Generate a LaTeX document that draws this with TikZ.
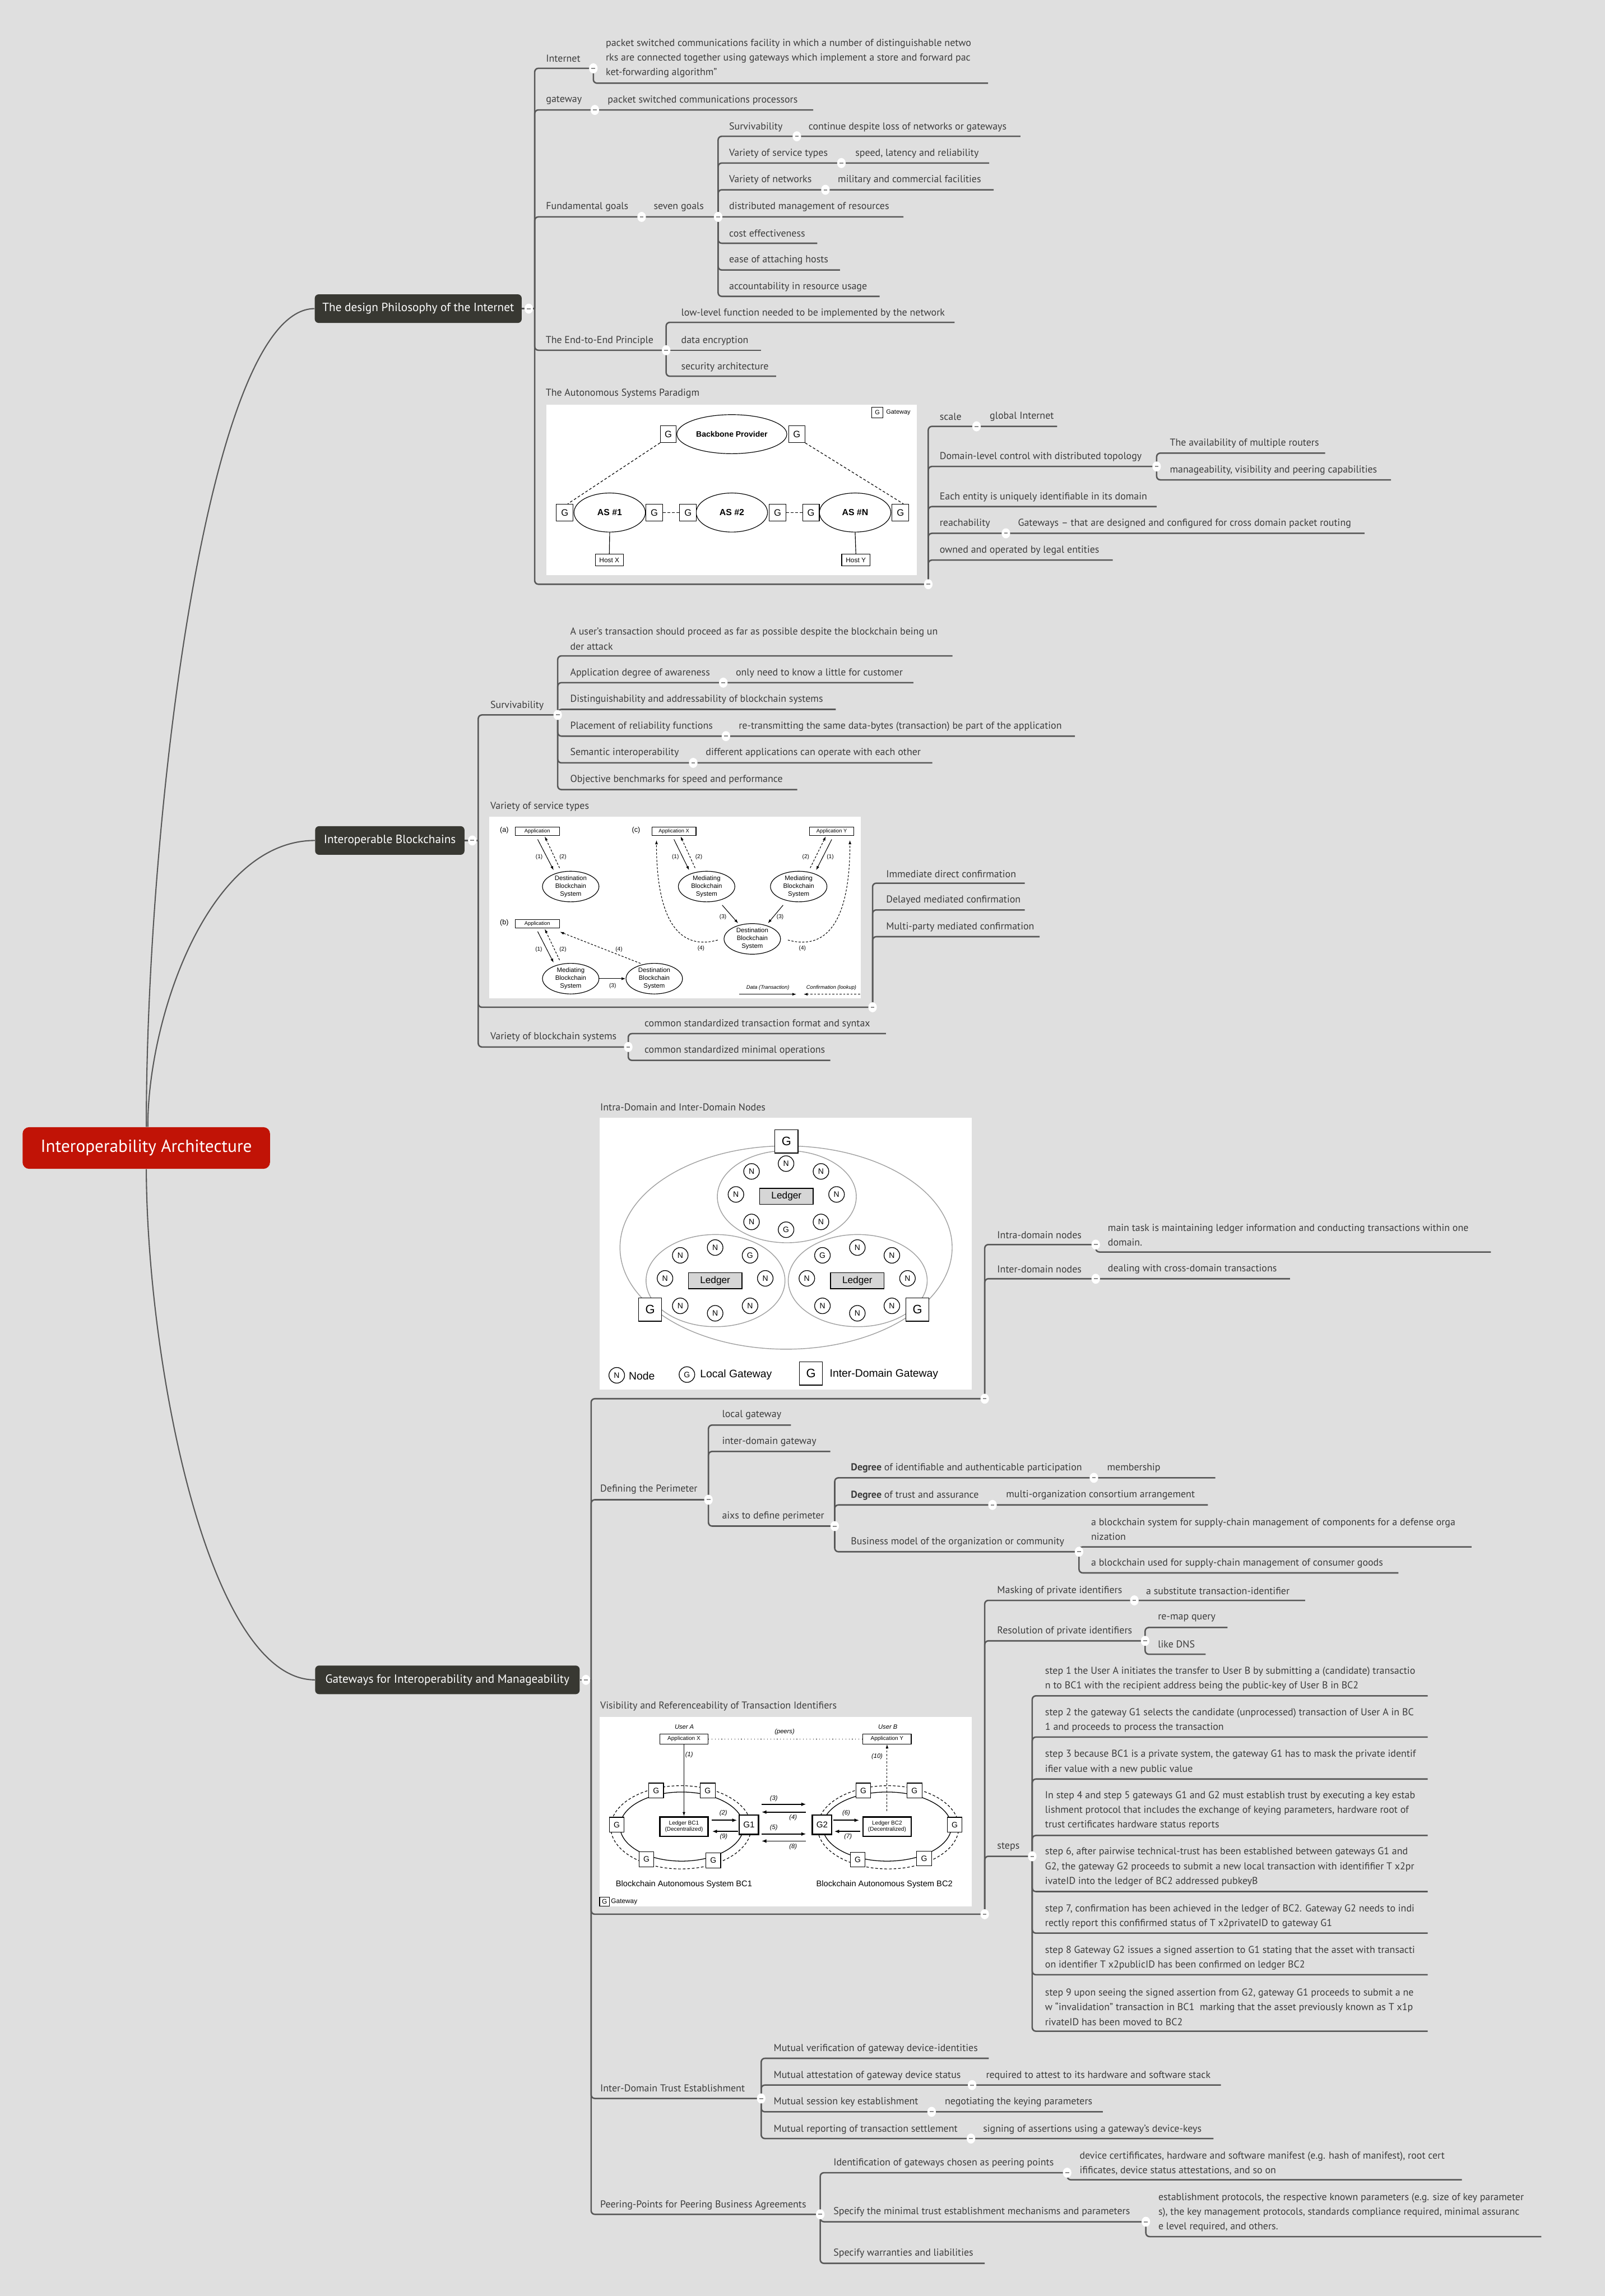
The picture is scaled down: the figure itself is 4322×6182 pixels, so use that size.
\documentclass[tikz,border=0pt]{standalone}
\usepackage{fontspec}
\usetikzlibrary{shapes.geometric,arrows.meta,calc}
\newfontfamily\mmf{PT Sans}
\newfontfamily\fgf{Liberation Sans}
\definecolor{bgc}{HTML}{DFDFDF}
\definecolor{tc}{HTML}{3C3C3C}
\definecolor{lc}{HTML}{585858}
\definecolor{boxc}{HTML}{383832}
\definecolor{rootc}{HTML}{C11306}
\definecolor{mgc}{HTML}{8C8C8C}
\definecolor{ledc}{HTML}{D6D6D6}
\definecolor{elc}{HTML}{A0A0A0}
\newcommand\mmfont{\mmf\fontsize{7.7}{11.3}\selectfont}
\newcommand\ff[2]{\fgf\fontsize{#1}{#2}\selectfont}
\newcommand\marker[3]{\node[mkr] (#1) at (#2,#3) {\color{mgc}\rule{0.1cm}{0.03cm}};}
\tikzset{
 txt/.style={font=\mmfont, text=tc, inner sep=0pt, anchor=west, align=left},
 ln/.style={draw=lc, line width=1.1pt, rounded corners=2.8pt},
 cv/.style={draw=lc, line width=0.9pt},
 mkr/.style={ellipse, fill=white, inner sep=0pt, minimum width=0.23cm, minimum height=0.27cm},
 mbox/.style={fill=boxc, rounded corners=3pt, text=white, font={\mmf\fontsize{9.1}{10}\selectfont}, minimum height=0.77cm, inner sep=0pt, anchor=west},
 fl/.style={draw=black, line width=0.5pt},
 fd/.style={fl, dash pattern=on 2pt off 1.5pt},
 ft/.style={inner sep=0pt, text=black},
 gbox/.style={draw=black, line width=0.5pt, fill=white, inner sep=0pt, minimum width=0.45cm, minimum height=0.45cm, font={\ff{7.1}{8}}},
 fell/.style={draw=black, line width=0.5pt, ellipse, inner sep=0pt, align=center},
 fbx/.style={draw=black, line width=0.5pt, fill=white, inner sep=0pt, font={\ff{4}{5}}},
 fe2/.style={fell, minimum width=1.52cm, minimum height=0.81cm, font={\ff{4.9}{6}}},
 lab/.style={ft, font={\ff{4.3}{5}}},
 ilab/.style={ft, font={\ff{4.8}{5}\itshape}},
 arr/.style={draw=black, line width=0.45pt, -{Latex[length=0.11cm,width=0.075cm]}},
 arrd/.style={arr, dash pattern=on 1.6pt off 1.2pt},
 arrt/.style={draw=black, line width=0.75pt, -{Latex[length=0.13cm,width=0.1cm]}},
 nd/.style={circle, draw=black, line width=0.55pt, fill=white, inner sep=0pt, minimum size=0.42cm, font={\ff{6}{6}}},
 ledb/.style={draw=black, line width=0.6pt, fill=ledc, inner sep=0pt, minimum width=1.44cm, minimum height=0.43cm, font={\ff{7.4}{8}}},
 igb/.style={draw=black, line width=0.6pt, fill=white, inner sep=0pt, minimum width=0.62cm, minimum height=0.63cm, font={\ff{9.4}{10}}},
 gfour/.style={draw=black, line width=0.5pt, fill=white, inner sep=0pt, minimum size=0.40cm, font={\ff{6}{7}}},
 gfourt/.style={draw=black, line width=1.1pt, fill=white, inner sep=0pt, minimum size=0.52cm, font={\ff{6.5}{7}}},
 ledfour/.style={draw=black, line width=1.1pt, fill=white, inner sep=0pt, minimum width=1.30cm, minimum height=0.52cm, align=center, font={\ff{4.3}{4.9}}},
}
\begin{document}
\begin{tikzpicture}[x=0.01cm,y=-0.01cm]
\fill[bgc] (0,0) rectangle (4322,6182);
\useasboundingbox (0,0) rectangle (4322,6182);

% ---------- root and main branches
\node[fill=rootc, rounded corners=5pt, text=white, font={\mmf\fontsize{13.4}{15}\selectfont}, minimum width=6.66cm, minimum height=1.12cm, inner sep=0pt] (root) at (394,3091) {Interoperability Architecture};
\node[mbox, minimum width=5.57cm] (b1) at (847,831) {The design Philosophy of the Internet};
\node[mbox, minimum width=4.02cm] (b2) at (848,2263) {Interoperable Blockchains};
\node[mbox, minimum width=7.12cm] (b3) at (848,4523) {Gateways for Interoperability and Manageability};
\draw[cv] (root.north) .. controls (394,2200) and (560,831) .. (b1.west);
\draw[cv] ([xshift=0.04cm]root.north) .. controls (398,2742) and (560,2263) .. (b2.west);
\draw[cv] (root.south) .. controls (396,3670) and (560,4523) .. (b3.west);

% ================= Branch 1
\coordinate (j1) at (1440,831);
\draw[ln] (b1.east) -- (j1);
\draw[ln] (j1) |- (1598,184);
\draw[ln] (1598,184) |- (2661,224);
\draw[ln] (j1) |- (2190,296);
\draw[ln] (j1) |- (2433,584);
\draw[ln] (1934,584) |- (2748,367);
\draw[ln] (1934,584) |- (2664,439);
\draw[ln] (1934,584) |- (2676,511);
\draw[ln] (1934,584) |- (2201,655);
\draw[ln] (1934,584) |- (2262,727);
\draw[ln] (1934,584) |- (2369,798);
\draw[ln] (j1) |- (1794,943);
\draw[ln] (1794,943) |- (2571,868);
\draw[ln] (1794,943) -- (2050,943);
\draw[ln] (1794,943) |- (2090,1013);
\draw[ln] (j1) |- (2500,1573);
\draw[ln] (2500,1573) |- (2847,1148);
\draw[ln] (2500,1573) |- (3115,1256);
\draw[ln] (3115,1256) |- (3569,1220);
\draw[ln] (3115,1256) |- (3746,1292);
\draw[ln] (2500,1573) |- (3115,1364);
\draw[ln] (2500,1573) |- (3675,1436);
\draw[ln] (2500,1573) |- (2997,1508);
\marker{m1}{1424}{831}
\marker{m2}{1598}{184}
\marker{m3}{1602}{296}
\marker{m4}{1728}{584}
\marker{m5}{1934}{584}
\marker{m6}{2146}{367}
\marker{m7}{2266}{439}
\marker{m8}{2223}{511}
\marker{m9}{1794}{943}
\marker{m10}{2500}{1573}
\marker{m11}{2630}{1148}
\marker{m12}{3115}{1256}
\marker{m13}{2709}{1436}

\node[txt] (a1) at (1470,157) {Internet};
\node[txt] (a2) at (1631,157) {packet switched communications facility in which a number of distinguishable netwo\\rks are connected together using gateways which implement a store and forward pac\\ket-forwarding algorithm”};
\node[txt] (a3) at (1470,270) {gateway};
\node[txt] (a4) at (1636,270) {packet switched communications processors};
\node[txt] (a5) at (1470,557) {Fundamental goals};
\node[txt] (a6) at (1760,557) {seven goals};
\node[txt] (a7) at (1963,342) {Survivability};
\node[txt] (a8) at (2177,342) {continue despite loss of networks or gateways};
\node[txt] (a9) at (1963,413) {Variety of service types};
\node[txt] (a10) at (2303,413) {speed, latency and reliability};
\node[txt] (a11) at (1963,485) {Variety of networks};
\node[txt] (a12) at (2256,485) {military and commercial facilities};
\node[txt] (a13) at (1963,557) {distributed management of resources};
\node[txt] (a14) at (1963,629) {cost effectiveness};
\node[txt] (a15) at (1963,701) {ease of attaching hosts};
\node[txt] (a16) at (1963,773) {accountability in resource usage};
\node[txt] (a17) at (1469,918) {The End-to-End Principle};
\node[txt] (a18) at (1834,843) {low-level function needed to be implemented by the network};
\node[txt] (a19) at (1834,918) {data encryption};
\node[txt] (a20) at (1834,988) {security architecture};
\node[txt] (a21) at (1469,1060) {The Autonomous Systems Paradigm};
\node[txt] (a22) at (2530,1122) {scale};
\node[txt] (a23) at (2665,1122) {global Internet};
\node[txt] (a24) at (2530,1230) {Domain-level control with distributed topology};
\node[txt] (a25) at (3150,1194) {The availability of multiple routers};
\node[txt] (a26) at (3150,1266) {manageability, visibility and peering capabilities};
\node[txt] (a27) at (2530,1338) {Each entity is uniquely identifiable in its domain};
\node[txt] (a28) at (2530,1410) {reachability};
\node[txt] (a29) at (2741,1410) {Gateways – that are designed and configured for cross domain packet routing};
\node[txt] (a30) at (2530,1482) {owned and operated by legal entities};

% ---- Figure 1: AS paradigm
\fill[white] (1471,1090) rectangle (2469,1549);
\node[gbox, minimum width=0.30cm, minimum height=0.29cm, font={\ff{4.7}{5}}] (lgG) at (2363,1111) {G};
\node[ft, anchor=west, font={\ff{4.7}{5}}] (lgT) at (2386,1111) {Gateway};
\node[fell, minimum width=2.96cm, minimum height=1.05cm, font={\ff{6}{7}\bfseries}] (bb) at (1971,1169) {Backbone Provider};
\node[gbox, minimum width=0.43cm] (bbL) at (1800,1169) {G};
\node[gbox, minimum width=0.43cm] (bbR) at (2146,1169) {G};
\node[fell, minimum width=1.92cm, minimum height=1.05cm, font={\ff{6.8}{7}\bfseries}] (as1) at (1642,1380) {AS \#1};
\node[fell, minimum width=1.92cm, minimum height=1.05cm, font={\ff{6.8}{7}\bfseries}] (as2) at (1971,1380) {AS \#2};
\node[fell, minimum width=1.92cm, minimum height=1.05cm, font={\ff{6.8}{7}\bfseries}] (asN) at (2303,1380) {AS \#N};
\node[gbox] (g1) at (1521,1380) {G};
\node[gbox] (g2) at (1762,1380) {G};
\node[gbox] (g3) at (1853,1380) {G};
\node[gbox] (g4) at (2094,1380) {G};
\node[gbox] (g5) at (2184,1380) {G};
\node[gbox] (g6) at (2425,1380) {G};
\node[gbox, minimum width=0.76cm, minimum height=0.31cm, font={\ff{5.1}{6}}] (hx) at (1641,1508) {Host X};
\node[gbox, minimum width=0.76cm, minimum height=0.31cm, font={\ff{5.1}{6}}] (hy) at (2305,1508) {Host Y};
\draw[fd] (bbL.south west) -- ($(g1.north)+(8,0)$);
\draw[fd] (bbR.south east) -- ($(g6.north)+(8,0)$);
\draw[fd] (g2.east) -- (g3.west);
\draw[fd] (g4.east) -- (g5.west);
\draw[fl] (as1.south) -- (hx.north);
\draw[fl] (asN.south) -- (hy.north);

% ================= Branch 2
\coordinate (j2) at (1288,2263);
\draw[ln] (b2.east) -- (j2);
\draw[ln] (j2) |- (1502,1925);
\draw[ln] (1502,1925) |- (2565,1766);
\draw[ln] (1502,1925) |- (2460,1838);
\draw[ln] (1502,1925) |- (2251,1910);
\draw[ln] (1502,1925) |- (2895,1982);
\draw[ln] (1502,1925) |- (2511,2054);
\draw[ln] (1502,1925) |- (2147,2126);
\draw[ln] (j2) |- (2350,2712);
\draw[ln] (2350,2712) |- (2760,2378);
\draw[ln] (2350,2712) |- (2760,2450);
\draw[ln] (2350,2712) |- (2800,2522);
\draw[ln] (j2) |- (1692,2819);
\draw[ln] (1692,2819) |- (2386,2783);
\draw[ln] (1692,2819) |- (2236,2855);
\marker{n1}{1272}{2263}
\marker{n2}{1502}{1925}
\marker{n3}{1948}{1838}
\marker{n4}{1955}{1982}
\marker{n5}{1867}{2054}
\marker{n6}{2350}{2712}
\marker{n7}{1692}{2819}

\node[txt] (c1) at (1320,1900) {Survivability};
\node[txt] (c2) at (1535,1720) {A user’s transaction should proceed as far as possible despite the blockchain being un\\der attack};
\node[txt] (c3) at (1535,1812) {Application degree of awareness};
\node[txt] (c4) at (1981,1812) {only need to know a little for customer};
\node[txt] (c5) at (1535,1884) {Distinguishability and addressability of blockchain systems};
\node[txt] (c6) at (1535,1956) {Placement of reliability functions};
\node[txt] (c7) at (1989,1956) {re-transmitting the same data-bytes (transaction) be part of the application};
\node[txt] (c8) at (1535,2027) {Semantic interoperability};
\node[txt] (c9) at (1900,2027) {different applications can operate with each other};
\node[txt] (c10) at (1535,2099) {Objective benchmarks for speed and performance};
\node[txt] (c11) at (1320,2172) {Variety of service types};
\node[txt] (c12) at (2386,2353) {Immediate direct confirmation};
\node[txt] (c13) at (2386,2424) {Delayed mediated confirmation};
\node[txt] (c14) at (2386,2496) {Multi-party mediated confirmation};
\node[txt] (c15) at (1320,2792) {Variety of blockchain systems};
\node[txt] (c16) at (1735,2757) {common standardized transaction format and syntax};
\node[txt] (c17) at (1735,2829) {common standardized minimal operations};

% ---- Figure 2: service types
\fill[white] (1318,2199) rectangle (2318,2688);
\node[ft, font={\ff{5.4}{6}}] (la) at (1358,2236) {(a)};
\node[fbx, minimum width=1.19cm, minimum height=0.23cm] (appA) at (1447,2238) {Application};
\node[fe2] (dA) at (1537,2387) {Destination\\Blockchain\\System};
\draw[arr] (1448,2260) -- (1491,2343);
\draw[arrd] (1507,2337) -- (1467,2252);
\node[lab] (la1) at (1452,2308) {(1)};
\node[lab] (la2) at (1516,2308) {(2)};
\node[ft, font={\ff{5.4}{6}}] (lb) at (1358,2484) {(b)};
\node[fbx, minimum width=1.19cm, minimum height=0.23cm] (appB) at (1447,2487) {Application};
\node[fe2] (mB) at (1537,2635) {Mediating\\Blockchain\\System};
\node[fe2] (dB) at (1762,2635) {Destination\\Blockchain\\System};
\draw[arr] (1448,2508) -- (1491,2592);
\draw[arrd] (1507,2585) -- (1467,2501);
\draw[arr] (mB.east) -- (dB.west);
\draw[arrd] (1725,2594) -- (1508,2509);
\node[lab] (lb1) at (1451,2557) {(1)};
\node[lab] (lb2) at (1516,2557) {(2)};
\node[lab] (lb3) at (1650,2654) {(3)};
\node[lab] (lb4) at (1667,2557) {(4)};
\node[ft, font={\ff{5.4}{6}}] (lc) at (1713,2236) {(c)};
\node[fbx, minimum width=1.19cm, minimum height=0.23cm] (appX) at (1815,2238) {Application X};
\node[fbx, minimum width=1.19cm, minimum height=0.23cm] (appY) at (2240,2238) {Application Y};
\node[fe2] (mC1) at (1903,2387) {Mediating\\Blockchain\\System};
\node[fe2] (mC2) at (2151,2387) {Mediating\\Blockchain\\System};
\node[fe2] (dC) at (2026,2528) {Destination\\Blockchain\\System};
\draw[arr] (1815,2260) -- (1856,2343);
\draw[arrd] (1872,2337) -- (1833,2252);
\draw[arr] (2240,2260) -- (2198,2343);
\draw[arrd] (2182,2337) -- (2224,2252);
\draw[arr] (1945,2437) -- (1988,2486);
\draw[arr] (2109,2437) -- (2068,2486);
\draw[arrd] (1933,2531) .. controls (1830,2560) and (1768,2480) .. (1768,2262);
\draw[arrd] (2122,2531) .. controls (2227,2560) and (2289,2480) .. (2289,2262);
\node[lab] (lc1) at (1819,2308) {(1)};
\node[lab] (lc2) at (1882,2308) {(2)};
\node[lab] (lc3) at (2170,2308) {(2)};
\node[lab] (lc4) at (2236,2308) {(1)};
\node[lab] (lc5) at (1947,2469) {(3)};
\node[lab] (lc6) at (2101,2469) {(3)};
\node[lab] (lc7) at (1888,2554) {(4)};
\node[lab] (lc8) at (2161,2554) {(4)};
\node[ft, font={\ff{4}{5}\itshape}] (lg1) at (2068,2660) {Data (Transaction)};
\node[ft, font={\ff{4}{5}\itshape}] (lg2) at (2239,2660) {Confirmation (lookup)};
\coordinate (lgA) at (1991,2677);
\coordinate (lgB) at (2145,2677);
\coordinate (lgC) at (2316,2677);
\coordinate (lgD) at (2164,2677);
\draw[arr] (lgA) -- (lgB);
\draw[arrd] (lgC) -- (lgD);

% ================= Branch 3
\coordinate (j3) at (1592,4523);
\draw[ln] (b3.east) -- (j3);
\draw[ln] (j3) |- (2652,3766);
\draw[ln] (2652,3766) |- (2951,3351);
\draw[ln] (2951,3351) |- (4015,3371);
\draw[ln] (2652,3766) |- (3474,3443);
\draw[ln] (j3) |- (1908,4038);
\draw[ln] (1908,4038) |- (2130,3837);
\draw[ln] (1908,4038) |- (2236,3908);
\draw[ln] (1908,4038) |- (2248,4109);
\draw[ln] (2248,4109) |- (3273,3979);
\draw[ln] (2248,4109) |- (3253,4052);
\draw[ln] (2248,4109) |- (2906,4178);
\draw[ln] (2906,4178) |- (3963,4165);
\draw[ln] (2906,4178) |- (3766,4235);
\draw[ln] (j3) |- (2652,5154);
\draw[ln] (2652,5154) |- (3515,4309);
\draw[ln] (2652,5154) |- (3084,4418);
\draw[ln] (3084,4418) |- (3306,4382);
\draw[ln] (3084,4418) |- (3247,4454);
\draw[ln] (2652,5154) |- (2780,4998);
\draw[ln] (2780,4998) |- (3845,4566);
\draw[ln] (2780,4998) |- (3845,4677);
\draw[ln] (2780,4998) |- (3845,4790);
\draw[ln] (2780,4998) |- (3845,4942);
\draw[ln] (2780,4998) |- (3845,5093);
\draw[ln] (2780,4998) |- (3845,5205);
\draw[ln] (2780,4998) |- (3845,5317);
\draw[ln] (2780,4998) |- (3845,5469);
\draw[ln] (j3) |- (2050,5650);
\draw[ln] (2050,5650) |- (2663,5542);
\draw[ln] (2050,5650) |- (3288,5614);
\draw[ln] (2050,5650) |- (2970,5686);
\draw[ln] (2050,5650) |- (3268,5758);
\draw[ln] (j3) |- (2209,5962);
\draw[ln] (2209,5962) |- (2874,5850);
\draw[ln] (2874,5850) |- (3937,5869);
\draw[ln] (2209,5962) |- (3086,5982);
\draw[ln] (3086,5982) |- (4151,6022);
\draw[ln] (2209,5962) |- (2652,6094);
\marker{p1}{1578}{4523}
\marker{p2}{2652}{3766}
\marker{p3}{2951}{3351}
\marker{p4}{2951}{3443}
\marker{p5}{1908}{4038}
\marker{p6}{2248}{4109}
\marker{p7}{2946}{3979}
\marker{p8}{2673}{4052}
\marker{p9}{2906}{4178}
\marker{p10}{2652}{5154}
\marker{p11}{3055}{4309}
\marker{p12}{3084}{4418}
\marker{p13}{2780}{4998}
\marker{p14}{2050}{5650}
\marker{p15}{2618}{5614}
\marker{p16}{2509}{5686}
\marker{p17}{2615}{5758}
\marker{p18}{2209}{5962}
\marker{p19}{2874}{5850}
\marker{p20}{3086}{5982}

\node[txt] (d1) at (1616,2981) {Intra-Domain and Inter-Domain Nodes};
\node[txt] (d2) at (2685,3325) {Intra-domain nodes};
\node[txt] (d3) at (2983,3325) {main task is maintaining ledger information and conducting transactions within one\\domain.};
\node[txt] (d4) at (2685,3417) {Inter-domain nodes};
\node[txt] (d5) at (2983,3417) {dealing with cross-domain transactions};
\node[txt] (d6) at (1616,4010) {Defining the Perimeter};
\node[txt] (d7) at (1944,3810) {local gateway};
\node[txt] (d8) at (1944,3882) {inter-domain gateway};
\node[txt] (d9) at (1944,4082) {aixs to define perimeter};
\node[txt] (d10) at (2291,3953) {\textbf{Degree} of identifiable and authenticable participation};
\node[txt] (d11) at (2981,3953) {membership};
\node[txt] (d12) at (2291,4026) {\textbf{Degree} of trust and assurance};
\node[txt] (d13) at (2709,4026) {multi-organization consortium arrangement};
\node[txt] (d14) at (2291,4152) {Business model of the organization or community};
\node[txt] (d15) at (2938,4118) {a blockchain system for supply-chain management of components for a defense orga\\nization};
\node[txt] (d16) at (2938,4209) {a blockchain used for supply-chain management of consumer goods};
\node[txt] (d17) at (1616,4594) {Visibility and Referenceability of Transaction Identifiers};
\node[txt] (d18) at (2685,4284) {Masking of private identifiers};
\node[txt] (d19) at (3086,4284) {a substitute transaction-identifier};
\node[txt] (d20) at (2685,4392) {Resolution of private identifiers};
\node[txt] (d21) at (3118,4357) {re-map query};
\node[txt] (d22) at (3118,4427) {like DNS};
\node[txt] (d23) at (2685,4973) {steps};
\node[txt] (s1) at (2814,4520) {step 1 the User A initiates the transfer to User B by submitting a (candidate) transactio\\n to BC1 with the recipient address being the public-key of User B in BC2};
\node[txt] (s2) at (2814,4632) {step 2 the gateway G1 selects the candidate (unprocessed) transaction of User A in BC\\1 and proceeds to process the transaction};
\node[txt] (s3) at (2814,4744) {step 3 because BC1 is a private system, the gateway G1 has to mask the private identif\\ifier value with a new public value};
\node[txt] (s4) at (2814,4875) {In step 4 and step 5 gateways G1 and G2 must establish trust by executing a key estab\\lishment protocol that includes the exchange of keying parameters, hardware root of\\trust certificates hardware status reports};
\node[txt] (s6) at (2814,5027) {step 6, after pairwise technical-trust has been established between gateways G1 and\\G2, the gateway G2 proceeds to submit a new local transaction with identififier T x2pr\\ivateID into the ledger of BC2 addressed pubkeyB};
\node[txt] (s7) at (2814,5160) {step 7, confirmation has been achieved in the ledger of BC2. Gateway G2 needs to indi\\rectly report this confifirmed status of T x2privateID to gateway G1};
\node[txt] (s8) at (2814,5272) {step 8 Gateway G2 issues a signed assertion to G1 stating that the asset with transacti\\on identifier T x2publicID has been confirmed on ledger BC2};
\node[txt] (s9) at (2814,5404) {step 9 upon seeing the signed assertion from G2, gateway G1 proceeds to submit a ne\\w “invalidation” transaction in BC1\ \ marking that the asset previously known as T x1p\\rivateID has been moved to BC2};
\node[txt] (e1) at (1616,5623) {Inter-Domain Trust Establishment};
\node[txt] (e2) at (2083,5516) {Mutual verification of gateway device-identities};
\node[txt] (e3) at (2083,5589) {Mutual attestation of gateway device status};
\node[txt] (e4) at (2655,5589) {required to attest to its hardware and software stack};
\node[txt] (e5) at (2083,5660) {Mutual session key establishment};
\node[txt] (e6) at (2544,5660) {negotiating the keying parameters};
\node[txt] (e7) at (2083,5733) {Mutual reporting of transaction settlement};
\node[txt] (e8) at (2647,5733) {signing of assertions using a gateway’s device-keys};
\node[txt] (e9) at (1616,5937) {Peering-Points for Peering Business Agreements};
\node[txt] (e10) at (2244,5824) {Identification of gateways chosen as peering points};
\node[txt] (e11) at (2907,5825) {device certifificates, hardware and software manifest (e.g. hash of manifest), root cert\\ifificates, device status attestations, and so on};
\node[txt] (e12) at (2244,5956) {Specify the minimal trust establishment mechanisms and parameters};
\node[txt] (e13) at (3119,5957) {establishment protocols, the respective known parameters (e.g. size of key parameter\\s), the key management protocols, standards compliance required, minimal assuranc\\e level required, and others.};
\node[txt] (e14) at (2244,6067) {Specify warranties and liabilities};

% ---- Figure 3: intra/inter domain nodes
\fill[white] (1615,3009) rectangle (2617,3742);
\node[draw=elc, line width=0.6pt, ellipse, minimum width=8.94cm, minimum height=5.47cm] (oute) at (2117,3359) {};
\node[draw=elc, line width=0.6pt, ellipse, minimum width=3.74cm, minimum height=2.48cm] (el1) at (2119,3222) {};
\node[draw=elc, line width=0.6pt, ellipse, minimum width=3.74cm, minimum height=2.48cm] (el2) at (1927,3448) {};
\node[draw=elc, line width=0.6pt, ellipse, minimum width=3.74cm, minimum height=2.48cm] (el3) at (2310,3448) {};
\node[ledb] (L1) at (2118,3221) {Ledger};
\node[ledb] (L2) at (1926,3448) {Ledger};
\node[ledb] (L3) at (2309,3448) {Ledger};
\node[igb] (IG1) at (2118,3073) {G};
\node[igb] (IG2) at (1751,3526) {G};
\node[igb] (IG3) at (2471,3526) {G};
\node[nd] (t1) at (2117,3133) {N};
\node[nd] (t2) at (2024,3154) {N};
\node[nd] (t3) at (2211,3154) {N};
\node[nd] (t4) at (1982,3216) {N};
\node[nd] (t5) at (2253,3216) {N};
\node[nd] (t6) at (2024,3290) {N};
\node[nd] (t7) at (2117,3311) {G};
\node[nd] (t8) at (2211,3290) {N};
\node[nd] (u1) at (1926,3359) {N};
\node[nd] (u2) at (1832,3380) {N};
\node[nd] (u3) at (2020,3380) {G};
\node[nd] (u4) at (1791,3442) {N};
\node[nd] (u5) at (2061,3442) {N};
\node[nd] (u6) at (1832,3516) {N};
\node[nd] (u7) at (1926,3536) {N};
\node[nd] (u8) at (2020,3516) {N};
\node[nd] (v1) at (2309,3359) {N};
\node[nd] (v2) at (2215,3380) {G};
\node[nd] (v3) at (2402,3380) {N};
\node[nd] (v4) at (2173,3442) {N};
\node[nd] (v5) at (2444,3442) {N};
\node[nd] (v6) at (2215,3516) {N};
\node[nd] (v7) at (2309,3536) {N};
\node[nd] (v8) at (2402,3516) {N};
\node[nd] (lN) at (1661,3703) {N};
\node[ft, anchor=west, font={\ff{8.3}{9}}] (lNt) at (1693,3704) {Node};
\node[nd] (lG) at (1850,3701) {G};
\node[ft, anchor=west, font={\ff{8.3}{9}}] (lGt) at (1885,3702) {Local Gateway};
\node[igb] (lIG) at (2184,3698) {G};
\node[ft, anchor=west, font={\ff{8.3}{9}}] (lIGt) at (2234,3700) {Inter-Domain Gateway};

% ---- Figure 4: visibility
\fill[white] (1615,4623) rectangle (2617,5133);
\node[draw=black, line width=0.5pt, dash pattern=on 2pt off 1.5pt, ellipse, minimum width=3.78cm, minimum height=2.24cm] (bc1d) at (1834,4920) {};
\node[draw=black, line width=0.55pt, ellipse, minimum width=3.32cm, minimum height=1.86cm] (bc1s) at (1836,4918) {};
\node[draw=black, line width=0.5pt, dash pattern=on 2pt off 1.5pt, ellipse, minimum width=3.80cm, minimum height=2.24cm] (bc2d) at (2392,4920) {};
\node[draw=black, line width=0.55pt, ellipse, minimum width=3.46cm, minimum height=1.86cm] (bc2s) at (2389,4918) {};
\node[ilab] (uA) at (1843,4649) {User A};
\node[ilab] (uB) at (2391,4649) {User B};
\node[ilab] (pe) at (2113,4663) {(peers)};
\node[fbx, minimum width=1.30cm, minimum height=0.27cm, font={\ff{4.3}{5}}] (apX) at (1842,4682) {Application X};
\node[fbx, minimum width=1.30cm, minimum height=0.27cm, font={\ff{4.3}{5}}] (apY) at (2389,4682) {Application Y};
\draw[fl, dotted] (apX.east) -- (apY.west);
\node[gfour] (q1) at (1767,4821) {G};
\node[gfour] (q2) at (1906,4821) {G};
\node[gfour] (q3) at (1661,4913) {G};
\node[gfour] (q4) at (1741,5006) {G};
\node[gfour] (q5) at (1921,5009) {G};
\node[gfour] (r1) at (2325,4821) {G};
\node[gfour] (r2) at (2463,4821) {G};
\node[gfour] (r3) at (2571,4913) {G};
\node[gfour] (r4) at (2310,5007) {G};
\node[gfour] (r5) at (2489,5004) {G};
\node[gfourt] (G1) at (2017,4913) {G1};
\node[gfourt] (G2) at (2214,4913) {G2};
\node[ledfour] (LB1) at (1842,4918) {Ledger BC1\\(Decentralized)};
\node[ledfour] (LB2) at (2389,4918) {Ledger BC2\\(Decentralized)};
\draw[arr] (apX.south) -- (LB1.north);
\draw[arrd] (2389,4876) -- (apY.south);
\node[ilab] (k1) at (1856,4725) {(1)};
\node[ilab] (k10) at (2362,4730) {(10)};
\draw[arrt] (1916,4901) -- (1985,4901);
\draw[arrt] (1987,4931) -- (1918,4931);
\draw[arrt] (2051,4858) -- (2171,4858);
\draw[arrt] (2171,4879) -- (2051,4879);
\draw[arrt] (2051,4938) -- (2171,4938);
\draw[arrt] (2171,4957) -- (2051,4957);
\draw[arrt] (2245,4901) -- (2314,4901);
\draw[arrt] (2316,4931) -- (2247,4931);
\node[ilab] (k2) at (1948,4882) {(2)};
\node[ilab] (k9) at (1949,4945) {(9)};
\node[ilab] (k3) at (2084,4842) {(3)};
\node[ilab] (k4) at (2136,4894) {(4)};
\node[ilab] (k5) at (2084,4921) {(5)};
\node[ilab] (k8) at (2136,4973) {(8)};
\node[ilab] (k6) at (2279,4882) {(6)};
\node[ilab] (k7) at (2284,4945) {(7)};
\node[ft, font={\ff{6.3}{7}}] (bcl1) at (1842,5074) {Blockchain Autonomous System BC1};
\node[ft, font={\ff{6.3}{7}}] (bcl2) at (2382,5074) {Blockchain Autonomous System BC2};
\node[draw=black, line width=0.5pt, fill=white, inner sep=0pt, minimum width=0.26cm, minimum height=0.25cm, font={\ff{5.1}{6}}] (lg4) at (1628,5120) {G};
\node[ft, anchor=west, font={\ff{5.1}{6}}] (lg4t) at (1645,5120) {Gateway};
\end{tikzpicture}
\end{document}
